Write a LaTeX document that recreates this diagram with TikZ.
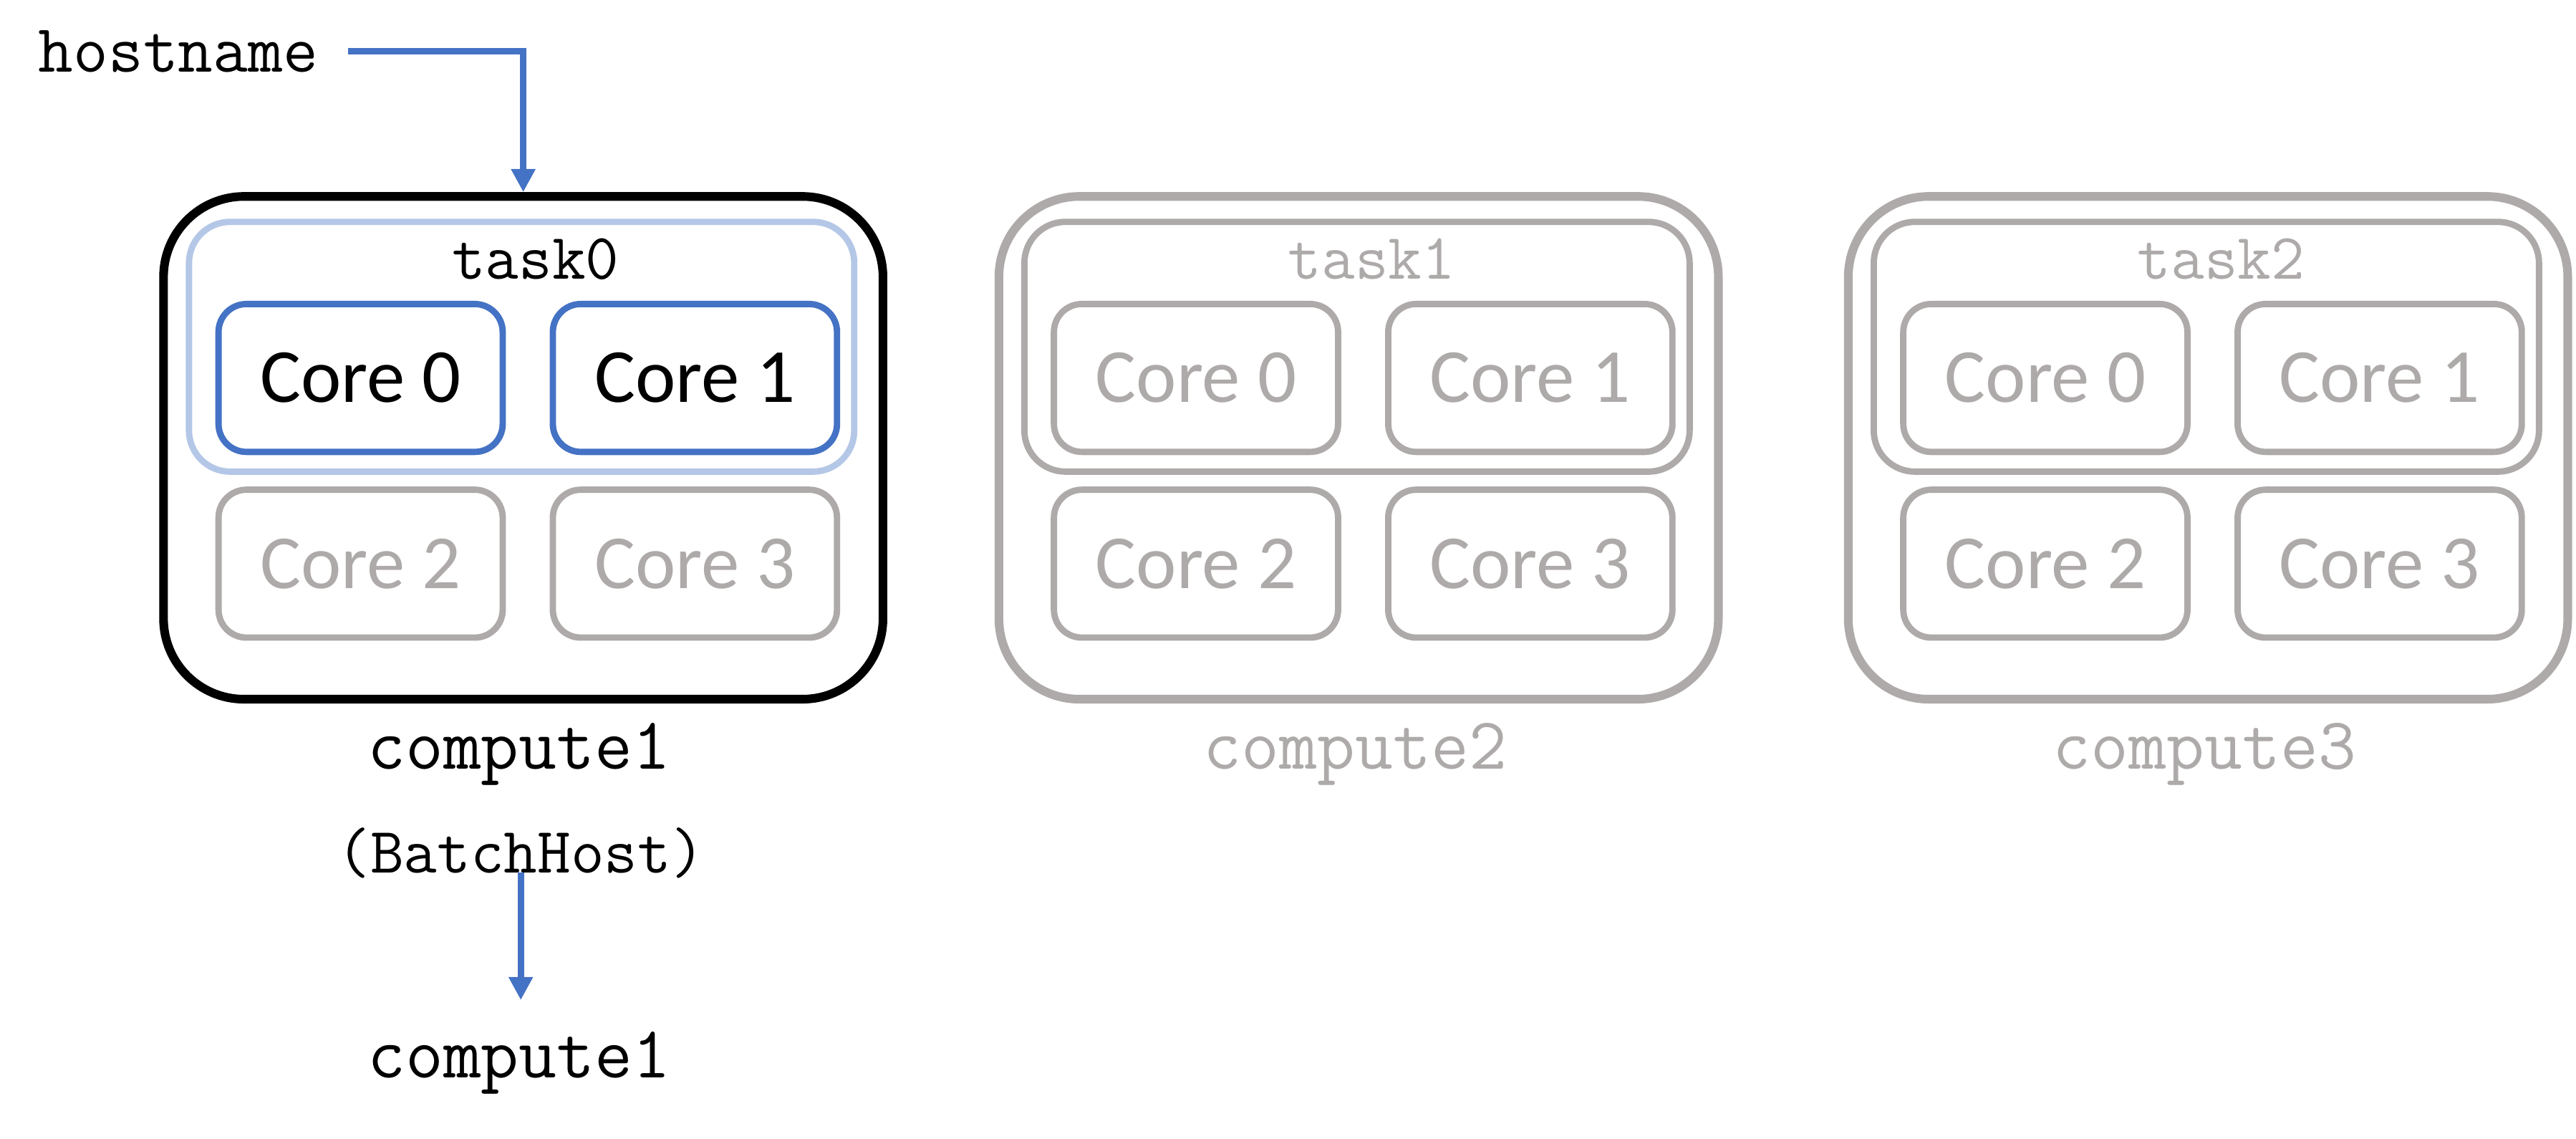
\documentclass[tikz,border=0pt]{standalone}
\usepackage{fontspec}
\setsansfont{Carlito}
\usetikzlibrary{arrows.meta}
\definecolor{linkblue}{HTML}{4472C4}
\definecolor{taskblue}{HTML}{B4C7E7}
\definecolor{offgrey}{HTML}{AEAAAA}

\begin{document}
\begin{tikzpicture}[x=0.02cm,y=-0.02cm]
        \tikzstyle{every node}+=[inner sep=0pt]
        \tikzstyle{mono}=[anchor=base, font=\fontsize{22.5}{26}\selectfont\ttfamily]
        \tikzstyle{monobig}=[anchor=base, font=\fontsize{25.5}{29}\selectfont\ttfamily]
        \tikzstyle{greymono}=[mono, text=offgrey]
        \tikzstyle{greymonobig}=[monobig, text=offgrey]
        \tikzstyle{hostbox}=[draw, line width=3pt, rounded corners=0.98cm, minimum width=8.76cm, minimum height=6.12cm]
        \tikzstyle{taskbox}=[draw, line width=2.2pt, rounded corners=0.5cm, minimum width=8.1cm, minimum height=3.04cm]
        \tikzstyle{corebox}=[draw, line width=2.2pt, rounded corners=0.34cm, minimum width=3.46cm, minimum height=1.8cm, font=\fontsize{26.5}{30}\selectfont\sffamily]
        \tikzstyle{idlecore}=[corebox, draw=offgrey, text=offgrey]
        \tikzstyle{link}=[draw=linkblue, line width=2.3pt, -{Triangle[width=8pt,length=8pt]}]
        \useasboundingbox (0,0) rectangle (1568,693);
        % compute1
        \node [hostbox] (compute1) at (318.5,272.5) {};
        \node [taskbox, draw=taskblue] (task0) at (317.5,211) {};
        \node [mono] (task0label) at (326,170) {task0};
        \node [corebox, draw=linkblue] (c1core0) at (219.5,230) {Core 0};
        \node [corebox, draw=linkblue] (c1core1) at (423,230) {Core 1};
        \node [idlecore] (c1core2) at (219.5,343) {Core 2};
        \node [idlecore] (c1core3) at (423,343) {Core 3};
        \node [monobig] (compute1label) at (316,468) {compute1};
        % compute2
        \node [hostbox, draw=offgrey] (compute2) at (827,272.5) {};
        \node [taskbox, draw=offgrey] (task1) at (826,211) {};
        \node [greymono] (task1label) at (835,170) {task1};
        \node [idlecore] (c2core0) at (728,230) {Core 0};
        \node [idlecore] (c2core1) at (931.5,230) {Core 1};
        \node [idlecore] (c2core2) at (728,343) {Core 2};
        \node [idlecore] (c2core3) at (931.5,343) {Core 3};
        \node [greymonobig] (compute2label) at (825,468) {compute2};
        % compute3
        \node [hostbox, draw=offgrey] (compute3) at (1344,272.5) {};
        \node [taskbox, draw=offgrey] (task2) at (1343,211) {};
        \node [greymono] (task2label) at (1352,170) {task2};
        \node [idlecore] (c3core0) at (1245,230) {Core 0};
        \node [idlecore] (c3core1) at (1448.5,230) {Core 1};
        \node [idlecore] (c3core2) at (1245,343) {Core 2};
        \node [idlecore] (c3core3) at (1448.5,343) {Core 3};
        \node [greymonobig] (compute3label) at (1342,468) {compute3};
        % hostname lookup
        \node [mono, font=\fontsize{23.5}{27}\selectfont\ttfamily] (hostname) at (108.5,43.7) {hostname};
        \draw [link, shorten <=0.36cm] (hostname.east) -| (compute1.north);
        \node [mono, font=\fontsize{22.5}{26}\selectfont\ttfamily] (batchhost) at (317,531) {(BatchHost)};
        \node [monobig] (batchtarget) at (316,655.8) {compute1};
        \draw [link, shorten >=0.38cm] (batchhost.base) -- (batchhost.base |- batchtarget.north);
\end{tikzpicture}
\end{document}
